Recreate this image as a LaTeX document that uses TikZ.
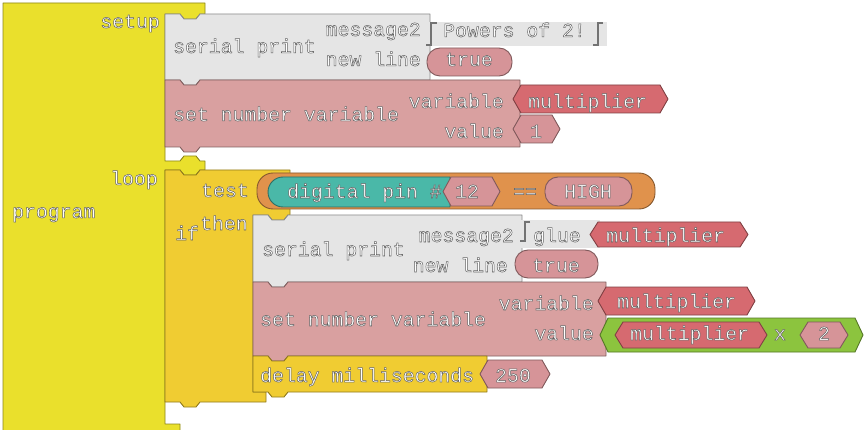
\documentclass[tikz,border=0pt]{standalone}
\usepackage{fontspec}
\newfontfamily\blkfont{Liberation Mono}
\definecolor{progY}{RGB}{234,224,44}
\definecolor{ifY}{RGB}{240,204,50}
\definecolor{grayB}{RGB}{229,229,229}
\definecolor{pinkB}{RGB}{217,160,160}
\definecolor{pinkV}{RGB}{214,148,152}
\definecolor{redV}{RGB}{214,106,112}
\definecolor{orgB}{RGB}{224,146,76}
\definecolor{tealB}{RGB}{74,184,168}
\definecolor{grnB}{RGB}{140,196,62}
\newcommand\emb[1]{\special{pdf:literal direct 2 Tr 0.5 w 0.38 G}#1\special{pdf:literal direct 0 Tr}}
\newcommand\stackblk[6]{%
  \filldraw[blkline, fill=#1, draw=#2]
  (#3,#4) -- (#3+15,#4) -- (#3+19,#4+5) -- (#3+31,#4+5) -- (#3+35,#4) -- (#5,#4)
  -- (#5,#6) -- (#3+35,#6) -- (#3+31,#6+5) -- (#3+19,#6+5) -- (#3+15,#6) -- (#3,#6) -- cycle;}
\newcommand\hexblk[6]{%
  \filldraw[blkline, fill=#1, draw=#2]
  (#3,{(#4+#6)/2}) -- (#3+8,#4) -- (#5-8,#4) -- (#5,{(#4+#6)/2}) -- (#5-8,#6) -- (#3+8,#6) -- cycle;}
\newcommand\pillblk[6]{%
  \filldraw[blkline, fill=#1, draw=#2, rounded corners=13pt] (#3,#4) rectangle (#5,#6);}
\tikzset{
  blkline/.style={line width=0.9pt, line join=round},
  txt/.style={font=\blkfont\fontsize{19.8}{19.8}\selectfont, text=white, inner sep=0pt},
  bracket/.style={draw=black!55, line width=1.3pt}
}
\begin{document}
\begin{tikzpicture}[x=1pt,y=-1pt]
\useasboundingbox (0,0) rectangle (864,430);
\clip (0,0) rectangle (864,430);
\fill[white] (0,0) rectangle (864,430);
% program block
\filldraw[blkline, fill=progY, draw=progY!60!black]
 (3,3) -- (205,3) -- (205,14) -- (200,14) -- (196,19) -- (184,19) -- (180,14) -- (165,14)
 -- (165,161) -- (180,161) -- (184,156) -- (196,156) -- (200,161) -- (205,161) -- (205,170)
 -- (200,170) -- (196,175) -- (184,175) -- (180,170) -- (165,170)
 -- (165,424) -- (180,424) -- (180,440) -- (3,440) -- cycle;
% setup section
\stackblk{grayB}{black!45}{165}{14}{430}{80}
\stackblk{pinkB}{pinkB!60!black}{165}{80}{520}{147}
% if block
\filldraw[blkline, fill=ifY, draw=ifY!60!black]
 (165,170) -- (180,170) -- (184,175) -- (196,175) -- (200,170) -- (290,170) -- (290,215)
 -- (288,215) -- (284,220) -- (272,220) -- (268,215) -- (253,215) -- (253,392) -- (266,392)
 -- (266,402) -- (200,402) -- (196,407) -- (184,407) -- (180,402) -- (165,402) -- cycle;
% then section
\stackblk{grayB}{black!45}{253}{215}{522}{282}
\stackblk{pinkB}{pinkB!60!black}{253}{282}{606}{356}
\stackblk{ifY}{ifY!60!black}{253}{356}{487}{392}
% value blocks, setup
\fill[grayB] (426,22) rectangle (607,46);
\draw[bracket] (437,23) -- (431,23) -- (431,45) -- (426,45);
\draw[bracket] (603,23) -- (598,23) -- (598,45) -- (593,45);
\pillblk{pinkV}{pinkV!60!black}{427}{48}{512}{76}
\hexblk{redV}{redV!60!black}{513}{85}{668}{113}
\hexblk{pinkV}{pinkV!60!black}{513}{115}{560}{143}
% test
\filldraw[blkline, fill=orgB, draw=orgB!60!black, rounded corners=16pt] (257,173) rectangle (655,209);
\filldraw[blkline, fill=tealB, draw=tealB!60!black] (450,177) -- (283,177) arc[start angle=270, end angle=90, radius=15] -- (450,207) -- cycle;
\hexblk{pinkV}{pinkV!60!black}{443}{177}{500}{206}
\pillblk{pinkV}{pinkV!60!black}{545}{177}{632}{206}
% then values
\fill[grayB] (518,220) rectangle (600,248);
\draw[bracket] (530,222) -- (525,222) -- (525,241) -- (520,241);
\hexblk{redV}{redV!60!black}{590}{222}{748}{247}
\pillblk{pinkV}{pinkV!60!black}{515}{250}{598}{278}
\hexblk{redV}{redV!60!black}{598}{287}{755}{315}
\hexblk{grnB}{grnB!60!black}{600}{318}{863}{352}
\hexblk{redV}{redV!60!black}{615}{322}{767}{348}
\hexblk{pinkV}{pinkV!60!black}{800}{322}{848}{348}
\hexblk{pinkV}{pinkV!60!black}{480}{360}{550}{388}
% texts
\node[txt, anchor=base east] (tsetup) at (160,28) {\emb{setup}};
\node[txt, anchor=base west] (tsp1) at (173,53) {\emb{serial print}};
\node[txt, anchor=base east] (tmsg1) at (421,36) {\emb{message2}};
\node[txt, anchor=base west] (tpow) at (443,37) {\emb{Powers of 2!}};
\node[txt, anchor=base east] (tnl1) at (421,66) {\emb{new line}};
\node[txt, anchor=base] (ttrue1) at (469,66) {\emb{true}};
\node[txt, anchor=base west] (tsnv1) at (173,121) {\emb{set number variable}};
\node[txt, anchor=base east] (tvar1) at (504,108) {\emb{variable}};
\node[txt, anchor=base west] (tmul1) at (528,108) {\emb{multiplier}};
\node[txt, anchor=base east] (tval1) at (504,138) {\emb{value}};
\node[txt, anchor=base west] (tone) at (530,138) {\emb{1}};
\node[txt, anchor=base west] (tprog) at (12,218) {\emb{program}};
\node[txt, anchor=base east] (tloop) at (158,185) {\emb{loop}};
\node[txt, anchor=base east] (ttest) at (249,197) {\emb{test}};
\node[txt, anchor=base west] (tif) at (175,240) {\emb{if}};
\node[txt, anchor=base west] (tthen) at (200,230) {\emb{then}};
\node[txt, anchor=base west] (tdig) at (287,198) {\emb{digital pin \#}};
\node[txt, anchor=base west] (t12) at (455,198) {\emb{12}};
\node[txt, anchor=base] (teq) at (525,198) {\emb{==}};
\node[txt, anchor=base] (thigh) at (588,198) {\emb{HIGH}};
\node[txt, anchor=base west] (tsp2) at (262,256) {\emb{serial print}};
\node[txt, anchor=base east] (tmsg2) at (514,242) {\emb{message2}};
\node[txt, anchor=base west] (tglue) at (533,242) {\emb{glue}};
\node[txt, anchor=base west] (tmul2) at (606,242) {\emb{multiplier}};
\node[txt, anchor=base east] (tnl2) at (508,272) {\emb{new line}};
\node[txt, anchor=base] (ttrue2) at (556,272) {\emb{true}};
\node[txt, anchor=base west] (tsnv2) at (260,326) {\emb{set number variable}};
\node[txt, anchor=base east] (tvar2) at (594,310) {\emb{variable}};
\node[txt, anchor=base east] (tval2) at (594,340) {\emb{value}};
\node[txt, anchor=base west] (tmul3) at (617,308) {\emb{multiplier}};
\node[txt, anchor=base west] (tmul4) at (630,340) {\emb{multiplier}};
\node[txt, anchor=base] (tx) at (780,340) {\emb{x}};
\node[txt, anchor=base] (ttwo) at (824,340) {\emb{2}};
\node[txt, anchor=base west] (tdelay) at (260,382) {\emb{delay milliseconds}};
\node[txt, anchor=base west] (t250) at (495,382) {\emb{250}};
\end{tikzpicture}
\end{document}
